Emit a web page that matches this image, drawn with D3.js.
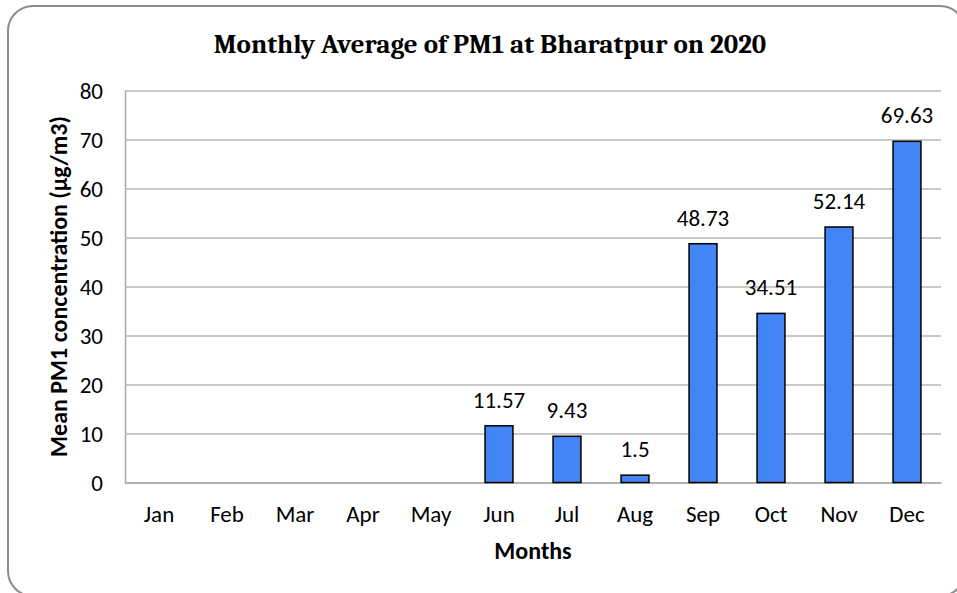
<!DOCTYPE html>
<html lang="en">
<head>
  <meta charset="UTF-8">
  <title>Monthly Average of PM1</title>
</head>
<style>
    body {
      margin: 0;
      background: #fff;
    }

    text {
      font-family: Carlito, Calibri, Lato, sans-serif;
      fill: #000;
    }

    .grid line {
      stroke: #b7b7b7;
      stroke-width: 1.5px;
    }

    .bar {
      fill: #4285f4;
      stroke: #000;
      stroke-width: 1.5px;
    }
</style>
<body>

<div id="chart"></div>

<script src="https://cdnjs.cloudflare.com/ajax/libs/d3/7.8.5/d3.min.js"></script>

<script>
/* global d3 */

// data
var months = ["Jan", "Feb", "Mar", "Apr", "May", "Jun", "Jul", "Aug", "Sep", "Oct", "Nov", "Dec"];
var pm1 = [null, null, null, null, null, 11.57, 9.43, 1.5, 48.73, 34.51, 52.14, 69.63];
var yTicks = [0, 10, 20, 30, 40, 50, 60, 70, 80];

var width = 957;
var height = 593;
var plot = { left: 125, right: 941, top: 90.5, bottom: 482.5 };

var svg = d3.select("#chart")
    .append("svg")
    .attr("width", width)
    .attr("height", height);

// rounded frame, runs past the right and bottom edges
svg.append("rect")
    .attr("x", 8)
    .attr("y", 6)
    .attr("width", 957)
    .attr("height", 590)
    .attr("rx", 25)
    .attr("ry", 25)
    .attr("fill", "#fff")
    .attr("stroke", "#8c8c8c")
    .attr("stroke-width", 2);

var x = d3.scaleBand()
    .domain(months)
    .range([plot.left, plot.right])
    .paddingInner(0.59)
    .paddingOuter(0.295);

var y = d3.scaleLinear()
    .domain([0, 80])
    .range([plot.bottom, plot.top]);

// gridlines + y tick labels
var yAxis = svg.append("g")
    .attr("class", "grid")
    .attr("transform", "translate(" + plot.left + ",0)")
    .call(d3.axisLeft(y)
        .tickValues(yTicks)
        .tickSize(-(plot.right - plot.left))
        .tickSizeOuter(0)
        .tickPadding(22));

yAxis.select(".domain")
    .attr("stroke", "#a6a6a6")
    .attr("stroke-width", 1.5);

yAxis.selectAll("text")
    .style("font-size", "23px")
    .attr("dy", "0.36em");

// x axis
var xAxis = svg.append("g")
    .attr("transform", "translate(0," + plot.bottom + ")")
    .call(d3.axisBottom(x)
        .tickSize(0)
        .tickPadding(23));

xAxis.select(".domain")
    .attr("stroke", "#a6a6a6")
    .attr("stroke-width", 1.5);

xAxis.selectAll("text")
    .style("font-size", "23px");

var data = months.map(function(m, i) {
    return { month: m, value: pm1[i] };
}).filter(function(d) {
    return d.value !== null;
});

svg.selectAll(".bar")
    .data(data)
    .enter()
    .append("rect")
    .attr("class", "bar")
    .attr("x", function(d) { return x(d.month); })
    .attr("width", x.bandwidth())
    .attr("y", function(d) { return y(d.value); })
    .attr("height", function(d) { return y(0) - y(d.value); });

svg.selectAll(".value")
    .data(data)
    .enter()
    .append("text")
    .attr("class", "value")
    .attr("x", function(d) { return x(d.month) + x.bandwidth() / 2; })
    .attr("y", function(d) { return y(d.value) - 18; })
    .attr("text-anchor", "middle")
    .style("font-size", "23px")
    .text(function(d) { return d.value; });

// titles
svg.append("text")
    .attr("x", 490)
    .attr("y", 53)
    .attr("text-anchor", "middle")
    .style("font-family", "Cambria, 'Liberation Serif', serif")
    .style("font-weight", "bold")
    .style("font-size", "27px")
    .text("Monthly Average of PM1 at Bharatpur on 2020");

svg.append("text")
    .attr("x", (plot.left + plot.right) / 2)
    .attr("y", 559)
    .attr("text-anchor", "middle")
    .style("font-weight", "bold")
    .style("font-size", "24px")
    .text("Months");

svg.append("text")
    .attr("transform", "translate(67," + ((plot.top + plot.bottom) / 2) + ") rotate(-90)")
    .attr("text-anchor", "middle")
    .style("font-weight", "bold")
    .style("font-size", "24px")
    .text("Mean PM1 concentration (µg/m3)");

</script>

</body>
</html>
